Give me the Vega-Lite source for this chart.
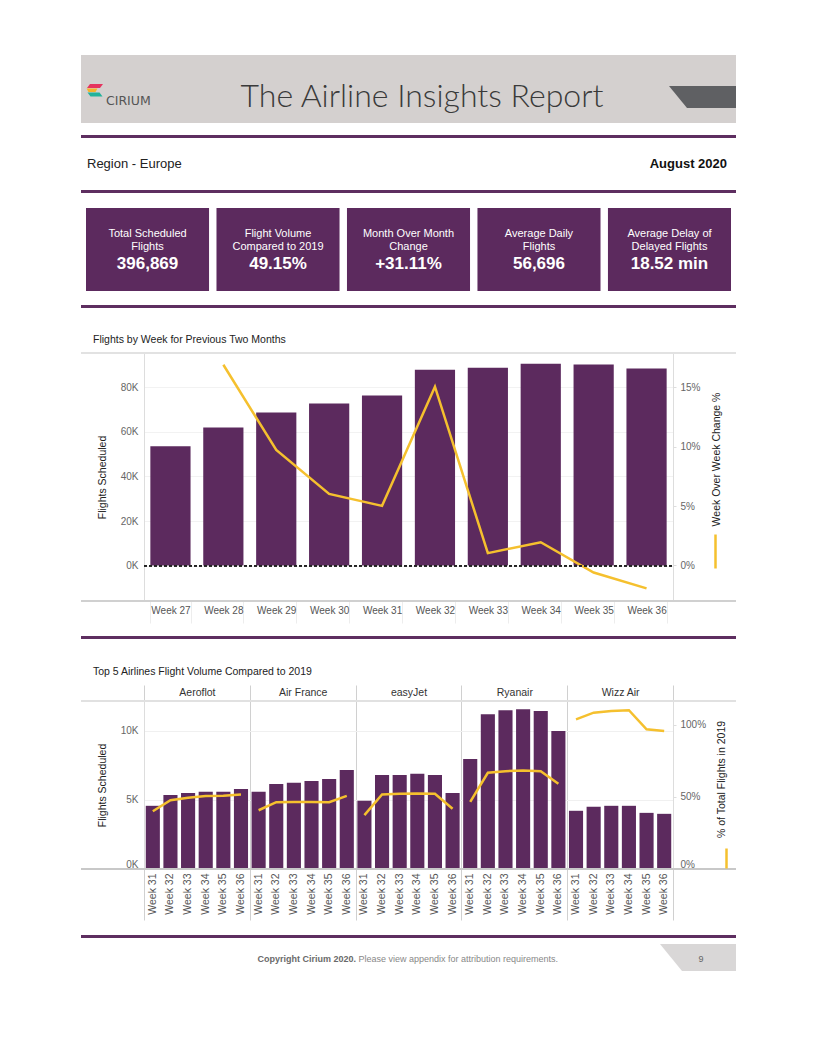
{
  "$schema": "https://vega.github.io/schema/vega-lite/v6.json",
  "background": "white",
  "padding": {"left": 80, "top": 55, "right": 0, "bottom": 0},
  "spacing": 0,
  "bounds": "flush",
  "resolve": {"scale": {"color": "independent"}, "legend": {"color": "independent"}},
  "config": {
    "view": {"stroke": null},
    "font": "Liberation Sans",
    "axis": {"labelFont": "Liberation Sans", "titleFont": "Liberation Sans"},
    "legend": {"labelFont": "Liberation Sans", "titleFont": "Liberation Sans"},
    "text": {"font": "Liberation Sans"},
    "title": {"font": "Liberation Sans"}
  },
  "vconcat": [
    {
      "width": 655, "height": 68,
      "view": {"fill": "#d4d0cf", "stroke": null},
      "data": {"values": [{"brand": "CIRIUM", "title": "The Airline Insights Report"}]},
      "layer": [
        {"mark": {"type": "point", "shape": "M-318.5,-5L-305.5,-5L-308.5,-1L-321.5,-1Z", "size": 4, "filled": true, "color": "#e5345f", "opacity": 1}},
        {"mark": {"type": "point", "shape": "M-322,-0.5L-311,-0.5L-313,3L-320,3Z", "size": 4, "filled": true, "color": "#f6b32b", "opacity": 1}},
        {"mark": {"type": "point", "shape": "M-321,3.5L-309,3.5L-306,7.5L-318,7.5Z", "size": 4, "filled": true, "color": "#22b39b", "opacity": 1}},
        {"mark": {"type": "point", "shape": "M260.5,-3L327.5,-3L327.5,19L278.5,19Z", "size": 4, "filled": true, "color": "#5f6063", "opacity": 1}},
        {"mark": {"type": "text", "align": "left", "baseline": "middle", "dx": -302.5, "dy": 12, "font": "DejaVu Sans", "fontSize": 12.5, "color": "#555555"}, "encoding": {"text": {"field": "brand"}}},
        {"mark": {"type": "text", "align": "center", "baseline": "alphabetic", "dx": 13.5, "dy": 18, "font": "Lato", "fontWeight": 300, "fontSize": 32, "color": "#3a3a3a"}, "encoding": {"text": {"field": "title"}}}
      ]
    },
    {"width": 655, "height": 12, "data": {"values": [{}]}, "mark": {"type": "text", "text": ""}},
    {"width": 655, "height": 3, "view": {"fill": "#5e2e60", "stroke": null}, "data": {"values": [{}]}, "mark": {"type": "text", "text": ""}},
    {
      "width": 655, "height": 52,
      "data": {"values": [{"region": "Region - Europe", "period": "August 2020"}]},
      "layer": [
        {"mark": {"type": "text", "align": "left", "baseline": "middle", "dx": -321.5, "fontSize": 13, "color": "#222222"}, "encoding": {"text": {"field": "region"}}},
        {"mark": {"type": "text", "align": "right", "baseline": "middle", "dx": 318.5, "fontSize": 13, "fontWeight": "bold", "color": "#111111"}, "encoding": {"text": {"field": "period"}}}
      ]
    },
    {"width": 655, "height": 3, "view": {"fill": "#5e2e60", "stroke": null}, "data": {"values": [{}]}, "mark": {"type": "text", "text": ""}},
    {"width": 655, "height": 15, "data": {"values": [{}]}, "mark": {"type": "text", "text": ""}},
    {
      "width": 655, "height": 83,
      "data": {"values": [
        {"metric": "Total Scheduled Flights", "label": ["Total Scheduled", "Flights"], "value": "396,869"},
        {"metric": "Flight Volume Compared to 2019", "label": ["Flight Volume", "Compared to 2019"], "value": "49.15%"},
        {"metric": "Month Over Month Change", "label": ["Month Over Month", "Change"], "value": "+31.11%"},
        {"metric": "Average Daily Flights", "label": ["Average Daily", "Flights"], "value": "56,696"},
        {"metric": "Average Delay of Delayed Flights", "label": ["Average Delay of", "Delayed Flights"], "value": "18.52 min"}
      ]},
      "encoding": {"x": {"field": "metric", "type": "nominal", "sort": null, "scale": {"type": "band", "range": [5, 650], "paddingInner": 0.057, "paddingOuter": 0}, "axis": null}},
      "layer": [
        {"mark": {"type": "rect", "color": "#5c2a5e"}},
        {"mark": {"type": "text", "color": "white", "fontSize": 11, "baseline": "middle", "dy": -15.5, "lineHeight": 12.5}, "encoding": {"text": {"field": "label"}}},
        {"mark": {"type": "text", "color": "white", "fontSize": 17, "fontWeight": "bold", "baseline": "middle", "dy": 14.5}, "encoding": {"text": {"field": "value"}}}
      ]
    },
    {"width": 655, "height": 14, "data": {"values": [{}]}, "mark": {"type": "text", "text": ""}},
    {"width": 655, "height": 3, "view": {"fill": "#5e2e60", "stroke": null}, "data": {"values": [{}]}, "mark": {"type": "text", "text": ""}},
    {"width": 655, "height": 45, "data": {"values": [{}]}, "mark": {"type": "text", "text": ""}},
    {
      "width": 655, "height": 248,
      "title": {"text": "Flights by Week for Previous Two Months", "anchor": "start", "frame": "group", "dx": 12, "dy": 11, "offset": 8, "baseline": "bottom", "fontSize": 10.5, "fontWeight": "normal", "color": "#222222"},
      "data": {"values": [
        {"week": "Week 27", "flights": 53500},
        {"week": "Week 28", "flights": 62000, "wow": 0.169},
        {"week": "Week 29", "flights": 68700, "wow": 0.0973},
        {"week": "Week 30", "flights": 72700, "wow": 0.0603},
        {"week": "Week 31", "flights": 76300, "wow": 0.0502},
        {"week": "Week 32", "flights": 87900, "wow": 0.1505},
        {"week": "Week 33", "flights": 88800, "wow": 0.0104},
        {"week": "Week 34", "flights": 90600, "wow": 0.0196},
        {"week": "Week 35", "flights": 90200, "wow": -0.0059},
        {"week": "Week 36", "flights": 88400, "wow": -0.0193}
      ]},
      "layer": [
        {"mark": {"type": "bar", "color": "#5c2a5e"},
         "encoding": {
           "x": {"field": "week", "type": "nominal", "sort": null,
                 "scale": {"type": "band", "domain": ["Week 27","Week 28","Week 29","Week 30","Week 31","Week 32","Week 33","Week 34","Week 35","Week 36"], "range": [63, 592], "paddingInner": 0.24, "paddingOuter": 0.12},
                 "axis": {"orient": "bottom", "title": null, "labelAngle": 0, "labelFontSize": 10, "labelColor": "#555555", "domain": false, "ticks": true, "tickBand": "extent", "tickSize": 22, "tickColor": "#ededed", "labelPadding": -18}},
           "y": {"field": "flights", "type": "quantitative",
                 "scale": {"domain": [-15900, 95400], "nice": false, "zero": false},
                 "axis": {"orient": "left", "offset": -63, "title": "Flights Scheduled", "titleFontSize": 10.5, "titleFontWeight": "normal", "titleColor": "#222222", "titlePadding": 13, "values": [0, 20000, 40000, 60000, 80000], "labelExpr": "datum.value / 1000 + 'K'", "labelFontSize": 10, "labelColor": "#666666", "labelPadding": 6, "ticks": false, "domain": true, "domainColor": "#dddddd", "grid": true, "gridColor": "#f2f2f2"}}
         }},
        {"mark": {"type": "rule", "color": "#e2e2e2", "strokeWidth": 1.5},
         "encoding": {"y": {"datum": 1, "type": "quantitative", "scale": {"domain": [0, 1], "nice": false, "zero": false}, "axis": null}}},
        {"mark": {"type": "rule", "color": "#d0d0d0", "strokeWidth": 2},
         "encoding": {"y": {"datum": 0, "type": "quantitative", "scale": {"domain": [0, 1], "nice": false, "zero": false}, "axis": null}}},
        {"mark": {"type": "line", "color": "#f5c02e", "strokeWidth": 2.5},
         "encoding": {
           "x": {"field": "week", "type": "nominal", "sort": null,
                 "scale": {"type": "band", "domain": ["Week 27","Week 28","Week 29","Week 30","Week 31","Week 32","Week 33","Week 34","Week 35","Week 36"], "range": [63, 592], "paddingInner": 0.24, "paddingOuter": 0.12},
                 "axis": null},
           "y": {"field": "wow", "type": "quantitative",
                 "scale": {"domain": [-0.0299, 0.1789], "nice": false, "zero": false},
                 "axis": {"orient": "right", "offset": -63, "title": "Week Over Week Change %", "titleAngle": 270, "titleBaseline": "top", "titleY": 106, "titleFontSize": 10.5, "titleFontWeight": "normal", "titleColor": "#222222", "titlePadding": 11, "values": [0, 0.05, 0.1, 0.15], "format": ".0%", "labelFontSize": 10, "labelColor": "#666666", "labelPadding": 4, "ticks": true, "tickSize": 3, "tickColor": "#dddddd", "domain": true, "domainColor": "#dddddd", "grid": false}},
           "color": {"datum": "Week Over Week Change %", "type": "nominal", "scale": {"range": ["#f5c02e"]},
                     "legend": {"orient": "none", "legendX": 616, "legendY": 180, "title": null, "labelExpr": "''", "symbolType": "M0,-1L0,1", "symbolSize": 1156, "symbolStrokeWidth": 2.5, "symbolStrokeColor": "#f5c02e", "padding": 0}}
         }},
        {"mark": {"type": "rule", "color": "#222222", "strokeDash": [3, 2], "strokeWidth": 1.2},
         "encoding": {
           "x": {"datum": 0, "type": "quantitative", "scale": {"domain": [0, 1], "range": [63, 592], "nice": false, "zero": false}, "axis": null},
           "x2": {"datum": 1},
           "y": {"datum": 0, "type": "quantitative", "scale": {"domain": [-15900, 95400], "nice": false, "zero": false}, "axis": null}
         }}
      ],
      "resolve": {"scale": {"x": "independent", "y": "independent"}}
    },
    {"width": 655, "height": 35, "data": {"values": [{}]}, "mark": {"type": "text", "text": ""}},
    {"width": 655, "height": 3, "view": {"fill": "#5e2e60", "stroke": null}, "data": {"values": [{}]}, "mark": {"type": "text", "text": ""}},
    {"width": 655, "height": 62, "data": {"values": [{}]}, "mark": {"type": "text", "text": ""}},
    {
      "width": 655, "height": 168,
      "title": {"text": "Top 5 Airlines Flight Volume Compared to 2019", "anchor": "start", "frame": "group", "dx": 12, "dy": 11, "offset": 8, "baseline": "bottom", "fontSize": 10.5, "fontWeight": "normal", "color": "#222222"},
      "data": {"values": [
        {"airline": "Aeroflot", "week": "Week 31", "key": "Aeroflot|Week 31", "flights": 4570, "pct": 0.400},
        {"airline": "Aeroflot", "week": "Week 32", "key": "Aeroflot|Week 32", "flights": 5360, "pct": 0.477},
        {"airline": "Aeroflot", "week": "Week 33", "key": "Aeroflot|Week 33", "flights": 5500, "pct": 0.493},
        {"airline": "Aeroflot", "week": "Week 34", "key": "Aeroflot|Week 34", "flights": 5580, "pct": 0.505},
        {"airline": "Aeroflot", "week": "Week 35", "key": "Aeroflot|Week 35", "flights": 5580, "pct": 0.507},
        {"airline": "Aeroflot", "week": "Week 36", "key": "Aeroflot|Week 36", "flights": 5790, "pct": 0.516},
        {"airline": "Air France", "week": "Week 31", "key": "Air France|Week 31", "flights": 5580, "pct": 0.407},
        {"airline": "Air France", "week": "Week 32", "key": "Air France|Week 32", "flights": 6150, "pct": 0.463},
        {"airline": "Air France", "week": "Week 33", "key": "Air France|Week 33", "flights": 6230, "pct": 0.465},
        {"airline": "Air France", "week": "Week 34", "key": "Air France|Week 34", "flights": 6370, "pct": 0.465},
        {"airline": "Air France", "week": "Week 35", "key": "Air France|Week 35", "flights": 6510, "pct": 0.463},
        {"airline": "Air France", "week": "Week 36", "key": "Air France|Week 36", "flights": 7160, "pct": 0.507},
        {"airline": "easyJet", "week": "Week 31", "key": "easyJet|Week 31", "flights": 4930, "pct": 0.373},
        {"airline": "easyJet", "week": "Week 32", "key": "easyJet|Week 32", "flights": 6800, "pct": 0.516},
        {"airline": "easyJet", "week": "Week 33", "key": "easyJet|Week 33", "flights": 6800, "pct": 0.521},
        {"airline": "easyJet", "week": "Week 34", "key": "easyJet|Week 34", "flights": 6880, "pct": 0.523},
        {"airline": "easyJet", "week": "Week 35", "key": "easyJet|Week 35", "flights": 6800, "pct": 0.521},
        {"airline": "easyJet", "week": "Week 36", "key": "easyJet|Week 36", "flights": 5500, "pct": 0.417},
        {"airline": "Ryanair", "week": "Week 31", "key": "Ryanair|Week 31", "flights": 7960, "pct": 0.465},
        {"airline": "Ryanair", "week": "Week 32", "key": "Ryanair|Week 32", "flights": 11200, "pct": 0.667},
        {"airline": "Ryanair", "week": "Week 33", "key": "Ryanair|Week 33", "flights": 11490, "pct": 0.678},
        {"airline": "Ryanair", "week": "Week 34", "key": "Ryanair|Week 34", "flights": 11560, "pct": 0.683},
        {"airline": "Ryanair", "week": "Week 35", "key": "Ryanair|Week 35", "flights": 11420, "pct": 0.678},
        {"airline": "Ryanair", "week": "Week 36", "key": "Ryanair|Week 36", "flights": 9980, "pct": 0.590},
        {"airline": "Wizz Air", "week": "Week 31", "key": "Wizz Air|Week 31", "flights": 4210, "pct": 1.037},
        {"airline": "Wizz Air", "week": "Week 32", "key": "Wizz Air|Week 32", "flights": 4500, "pct": 1.083},
        {"airline": "Wizz Air", "week": "Week 33", "key": "Wizz Air|Week 33", "flights": 4570, "pct": 1.095},
        {"airline": "Wizz Air", "week": "Week 34", "key": "Wizz Air|Week 34", "flights": 4570, "pct": 1.100},
        {"airline": "Wizz Air", "week": "Week 35", "key": "Wizz Air|Week 35", "flights": 4060, "pct": 0.968},
        {"airline": "Wizz Air", "week": "Week 36", "key": "Wizz Air|Week 36", "flights": 3990, "pct": 0.956}
      ]},
      "layer": [
        {"mark": {"type": "bar", "color": "#5c2a5e"},
         "encoding": {
           "x": {"field": "key", "type": "nominal", "sort": null,
                 "scale": {"type": "band", "range": [63, 592], "paddingInner": 0.2, "paddingOuter": 0.1},
                 "axis": {"orient": "bottom", "title": null, "labelAngle": 270, "labelExpr": "split(datum.value, '|')[1]", "labelFontSize": 10.5, "labelColor": "#555555", "labelPadding": 4, "ticks": false, "domain": false}},
           "y": {"field": "flights", "type": "quantitative",
                 "scale": {"domain": [0, 12150], "nice": false, "zero": false},
                 "axis": {"orient": "left", "offset": -63, "title": "Flights Scheduled", "titleFontSize": 10.5, "titleFontWeight": "normal", "titleColor": "#222222", "titlePadding": 13, "values": [0, 5000, 10000], "labelExpr": "datum.value / 1000 + 'K'", "labelBaseline": {"condition": {"test": "datum.value === 0", "value": "bottom"}, "value": "middle"}, "labelFontSize": 10, "labelColor": "#666666", "labelPadding": 6, "ticks": false, "domain": true, "domainColor": "#dddddd", "grid": true, "gridColor": "#f0f0f0"}}
         }},
        {"mark": {"type": "rule", "color": "#e0e0e0", "strokeWidth": 1.5},
         "encoding": {"y": {"datum": 1, "type": "quantitative", "scale": {"domain": [0, 1], "nice": false, "zero": false}, "axis": null}}},
        {"mark": {"type": "rule", "color": "#c8c8c8", "strokeWidth": 2},
         "encoding": {"y": {"datum": 0, "type": "quantitative", "scale": {"domain": [0, 1], "nice": false, "zero": false}, "axis": null}}},
        {"mark": {"type": "line", "color": "#f5c02e", "strokeWidth": 2.5},
         "encoding": {
           "x": {"field": "key", "type": "nominal", "sort": null,
                 "scale": {"type": "band", "range": [63, 592], "paddingInner": 0.2, "paddingOuter": 0.1},
                 "axis": null},
           "y": {"field": "pct", "type": "quantitative",
                 "scale": {"domain": [0, 1.164], "nice": false, "zero": false},
                 "axis": {"orient": "right", "offset": -63, "title": "% of Total Flights in 2019", "titleAngle": 270, "titleBaseline": "top", "titleY": 78, "titleFontSize": 10.5, "titleFontWeight": "normal", "titleColor": "#222222", "titlePadding": 11, "values": [0, 0.5, 1], "format": ".0%", "labelBaseline": {"condition": {"test": "datum.value === 0", "value": "bottom"}, "value": "middle"}, "labelFontSize": 10, "labelColor": "#666666", "labelPadding": 4, "ticks": true, "tickSize": 3, "tickColor": "#dddddd", "domain": true, "domainColor": "#dddddd", "grid": false}},
           "detail": {"field": "airline", "type": "nominal"},
           "color": {"datum": "% of Total Flights in 2019", "type": "nominal", "scale": {"range": ["#f5c02e"]},
                     "legend": {"orient": "none", "legendX": 634, "legendY": 146, "title": null, "labelExpr": "''", "symbolType": "M0,-1L0,1", "symbolSize": 400, "symbolStrokeWidth": 2.5, "symbolStrokeColor": "#f5c02e", "padding": 0}}
         }},
        {"mark": {"type": "rule", "opacity": 0},
         "encoding": {
           "x": {"field": "airline", "type": "nominal", "sort": null,
                 "scale": {"type": "band", "range": [63, 592], "paddingInner": 0, "paddingOuter": 0},
                 "axis": {"orient": "top", "title": null, "domain": false, "ticks": true, "tickBand": "extent", "tickSize": 16, "tickColor": "#d0d0d0", "labelPadding": -12, "labelFontSize": 10.5, "labelColor": "#333333", "labelAngle": 0, "grid": true, "gridColor": "#d0d0d0"}},
           "y": {"datum": 0.5, "type": "quantitative", "scale": {"domain": [0, 1], "nice": false, "zero": false}, "axis": null}
         }},
        {"mark": {"type": "rule", "opacity": 0},
         "encoding": {
           "x": {"field": "airline", "type": "nominal", "sort": null,
                 "scale": {"type": "band", "range": [63, 592], "paddingInner": 0, "paddingOuter": 0},
                 "axis": {"orient": "bottom", "title": null, "domain": false, "labels": false, "ticks": true, "tickBand": "extent", "tickSize": 51, "tickColor": "#d0d0d0", "grid": false}},
           "y": {"datum": 0.5, "type": "quantitative", "scale": {"domain": [0, 1], "nice": false, "zero": false}, "axis": null}
         }}
      ],
      "resolve": {"scale": {"x": "independent", "y": "independent"}}
    },
    {"width": 655, "height": 66, "data": {"values": [{}]}, "mark": {"type": "text", "text": ""}},
    {"width": 655, "height": 3, "view": {"fill": "#5e2e60", "stroke": null}, "data": {"values": [{}]}, "mark": {"type": "text", "text": ""}},
    {
      "width": 655, "height": 40,
      "data": {"values": [{"copy": "Copyright Cirium 2020.", "note": "Please view appendix for attribution requirements.", "page": "9"}]},
      "layer": [
        {"mark": {"type": "point", "shape": "M251.5,-14L327.5,-14L327.5,13L273.5,13Z", "size": 4, "filled": true, "color": "#d9d7d7", "opacity": 1}},
        {"mark": {"type": "text", "align": "right", "baseline": "middle", "dx": -52.5, "dy": 1, "fontSize": 9, "fontWeight": "bold", "color": "#6a6a6a"}, "encoding": {"text": {"field": "copy"}}},
        {"mark": {"type": "text", "align": "left", "baseline": "middle", "dx": -50, "dy": 1, "fontSize": 9, "color": "#888888"}, "encoding": {"text": {"field": "note"}}},
        {"mark": {"type": "text", "align": "center", "baseline": "middle", "dx": 292.5, "dy": 1, "fontSize": 9, "color": "#666666"}, "encoding": {"text": {"field": "page"}}}
      ]
    }
  ]
}
